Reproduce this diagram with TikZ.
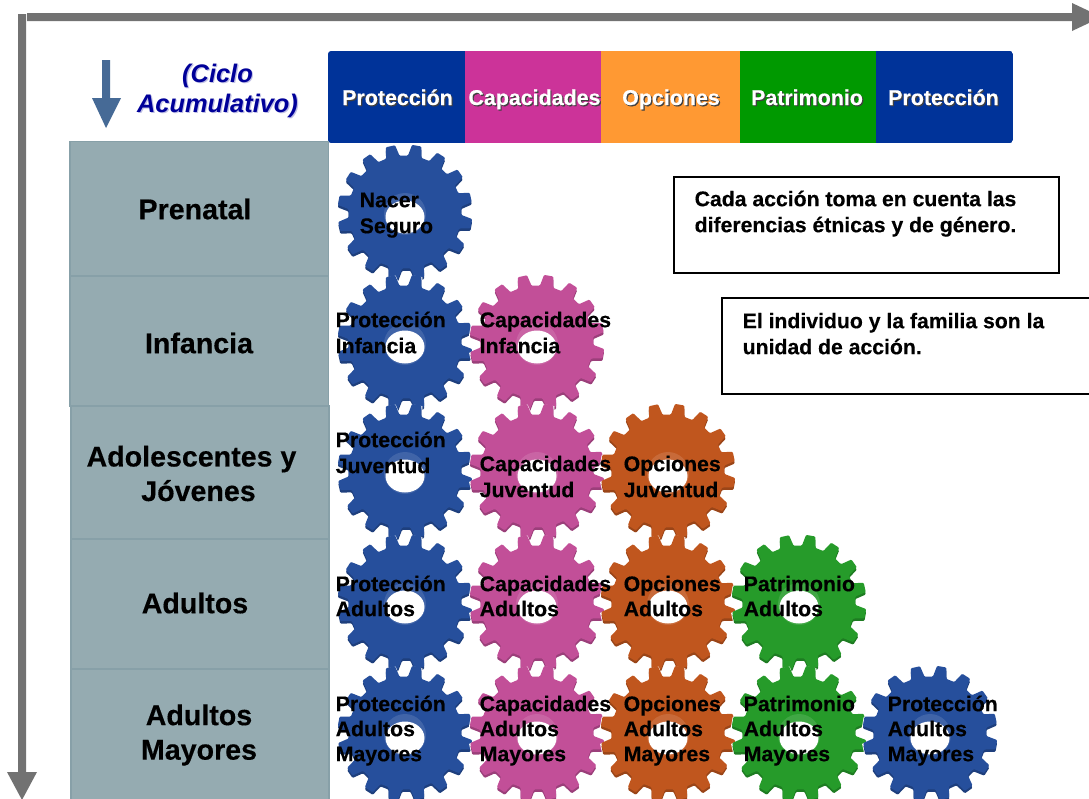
\documentclass[tikz,border=0pt]{standalone}
\usepackage{fontspec}
\setmainfont{Liberation Sans}[BoldFeatures={FakeBold=0.35}]
\definecolor{gblue}{HTML}{264F9C}
\definecolor{gpink}{HTML}{C24F98}
\definecolor{gorange}{HTML}{C0561E}
\definecolor{ggreen}{HTML}{269B2A}
\definecolor{hblue}{HTML}{003399}
\definecolor{hpink}{HTML}{CC3399}
\definecolor{horange}{HTML}{FF9933}
\definecolor{hgreen}{HTML}{009900}
\definecolor{stage}{HTML}{95ABB1}
\definecolor{stageline}{HTML}{87A0A8}
\definecolor{axisgray}{HTML}{727272}
\definecolor{arrowblue}{HTML}{466A96}
\definecolor{navy}{HTML}{000099}
\newcommand\shadowed[3]{\rlap{\raisebox{-1.2pt}{\hspace{1.2pt}\textcolor{#2}{#3}}}\textcolor{#1}{#3}}
\newcommand\gearoutline{(3:56.5) foreach \i in {0,...,15} { -- ({\i*22.5+3}:56.5) -- ({\i*22.5+6}:67.5) -- ({\i*22.5+14}:67.5) -- ({\i*22.5+17}:56.5) } -- cycle}
\newcommand\gearshape[3]{%
  \begin{scope}[shift={(#1,#2-1)}]
    \fill[white,draw=white,line width=2pt,shift={(0,1.5)}] \gearoutline;
    \fill[#3!80!black,shift={(0,2.5)},rounded corners=1pt] \gearoutline;
    \fill[#3,rounded corners=1pt] \gearoutline;
    \fill[#3!88!white] (0,2) circle (21);
    \fill[white] (0,5) ellipse (19.5 and 16.5);
  \end{scope}}
\tikzset{
  stagebox/.style={fill=stage,draw=stageline,line width=1.5pt},
  stagetext/.style={font=\fontsize{28.6}{34.5}\selectfont\bfseries,align=center,text=black},
  headtext/.style={anchor=base,font=\fontsize{21.4}{26}\selectfont\bfseries},
  gearlabel/.style={anchor=north west,inner sep=0pt,align=left,text=black,font=\fontsize{21.3}{26}\selectfont\bfseries},
  gearlabeltight/.style={gearlabel,font=\fontsize{21.3}{25}\selectfont\bfseries},
  notebox/.style={draw=black,line width=1.5pt,fill=white},
  notetext/.style={anchor=north west,inner sep=0pt,align=left,text=black,font=\fontsize{21.2}{26}\selectfont\bfseries},
}
\begin{document}
\begin{tikzpicture}[x=1pt,y=-1pt]
\clip (0,0) rectangle (1089,798);
\fill[white] (0,0) rectangle (1089,798);
% axes
\fill[axisgray] (27,13) -- (1072,13) -- (1072,3) -- (1089,11) -- (1089,23) -- (1072,31) -- (1072,21) -- (27,21) -- cycle;
\fill[axisgray] (18,14) -- (26,14) -- (26,772) -- (37,772) -- (22,800) -- (7,772) -- (18,772) -- cycle;
% small arrow
\fill[arrowblue] (102,60) -- (110,60) -- (110,98) -- (121,98) -- (106,128) -- (92,98) -- (102,98) -- cycle;
\node[font=\fontsize{25.4}{30}\selectfont\bfseries\itshape,align=center] (ciclo) at (217.5,91.5) {\shadowed{navy}{navy!25!white}{(Ciclo}\\\shadowed{navy}{navy!25!white}{Acumulativo)}};
% header
\begin{scope}
\clip[rounded corners=3pt] (328,51) rectangle (1013,143);
\fill[hblue] (328,51) rectangle (465,143);
\fill[hpink] (465,51) rectangle (601,143);
\fill[horange] (601,51) rectangle (740,143);
\fill[hgreen] (740,51) rectangle (876,143);
\fill[hblue] (876,51) rectangle (1013,143);
\end{scope}
\node[headtext] (h1) at (397.5,105) {\shadowed{white}{black!75}{Protección}};
\node[headtext] (h2) at (534.5,105) {\shadowed{white}{black!75}{Capacidades}};
\node[headtext] (h3) at (671,105) {\shadowed{white}{black!75}{Opciones}};
\node[headtext] (h4) at (807,105) {\shadowed{white}{black!75}{Patrimonio}};
\node[headtext] (h5) at (943.5,105) {\shadowed{white}{black!75}{Protección}};
% stages
\draw[stagebox] (70,141.5) rectangle (328.5,276);
\draw[stagebox] (70,276) rectangle (328.5,406);
\draw[stagebox] (71,406) rectangle (329,539);
\draw[stagebox] (71,539) rectangle (329,669);
\draw[stagebox] (71,669) rectangle (329,810);
\node[stagetext] (s1) at (195,209) {Prenatal};
\node[stagetext] (s2) at (199,343) {Infancia};
\node[stagetext] (s3) at (191.5,473.5) {Adolescentes y\\\hspace*{14pt}Jóvenes};
\node[stagetext] (s4) at (195,603) {Adultos};
\node[stagetext] (s5) at (199,735) {Adultos\\Mayores};
% gears
\gearshape{405}{213}{gblue}
\gearshape{405}{343}{gblue}
\gearshape{537}{343}{gpink}
\gearshape{405}{472}{gblue}
\gearshape{537}{472}{gpink}
\gearshape{668}{472}{gorange}
\gearshape{405}{603}{gblue}
\gearshape{537}{603}{gpink}
\gearshape{668}{603}{gorange}
\gearshape{799}{603}{ggreen}
\gearshape{405}{734}{gblue}
\gearshape{537}{734}{gpink}
\gearshape{668}{734}{gorange}
\gearshape{799}{734}{ggreen}
\gearshape{930}{734}{gblue}
% gear labels
\node[gearlabel] (g1) at (359.5,188.8) {\strut Nacer\\Seguro};
\node[gearlabel] (g2) at (335.5,308.8) {\strut Protección\\Infancia};
\node[gearlabel] (g3) at (479.5,308.8) {\strut Capacidades\\Infancia};
\node[gearlabel] (g4) at (335.5,428.8) {\strut Protección\\Juventud};
\node[gearlabel] (g5) at (479.5,452.8) {\strut Capacidades\\Juventud};
\node[gearlabel] (g6) at (623.5,452.8) {\strut Opciones\\Juventud};
\node[gearlabeltight] (g7) at (335.5,573.5) {\strut Protección\\Adultos};
\node[gearlabeltight] (g8) at (479.5,573.5) {\strut Capacidades\\Adultos};
\node[gearlabeltight] (g9) at (623.5,573.5) {\strut Opciones\\Adultos};
\node[gearlabeltight] (g10) at (743.5,573.5) {\strut Patrimonio\\Adultos};
\node[gearlabeltight] (g11) at (335.5,693.5) {\strut Protección\\Adultos\\Mayores};
\node[gearlabeltight] (g12) at (479.5,693.5) {\strut Capacidades\\Adultos\\Mayores};
\node[gearlabeltight] (g13) at (623.5,693.5) {\strut Opciones\\Adultos\\Mayores};
\node[gearlabeltight] (g14) at (743.5,693.5) {\strut Patrimonio\\Adultos\\Mayores};
\node[gearlabeltight] (g15) at (887.5,693.5) {\strut Protección\\Adultos\\Mayores};
% notes
\draw[notebox] (674,177) rectangle (1059,273);
\node[notetext] (n1) at (694.5,187.8) {\strut Cada acción toma en cuenta las\\diferencias étnicas y de género.};
\draw[notebox] (722,298) rectangle (1100,394);
\node[notetext] (n2) at (742.5,309.8) {\strut El individuo y la familia son la\\unidad de acción.};
\end{tikzpicture}
\end{document}
